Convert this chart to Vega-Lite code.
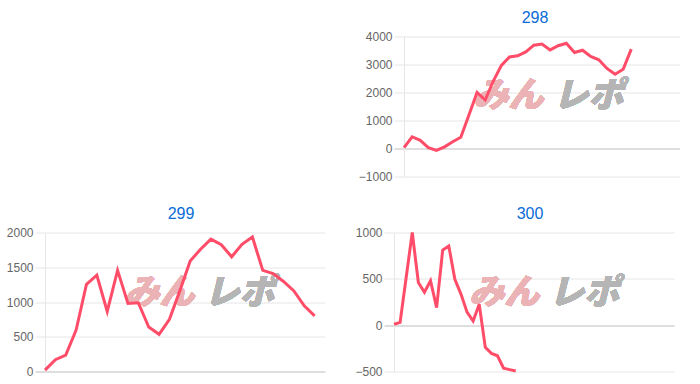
{
  "$schema": "https://vega.github.io/schema/vega-lite/v6.json",
  "padding": {"left": 6, "top": 9.5, "right": 0, "bottom": 0},
  "autosize": {"type": "pad"},
  "background": "white",
  "config": {
    "view": {"stroke": null},
    "font": "Liberation Sans",
    "title": {"fontSize": 16, "fontWeight": "normal", "color": "#0a6cd6", "font": "Liberation Sans", "offset": 4.5, "anchor": "middle"}
  },
  "datasets": {
    "d298": [
      {"i": 0, "v": 30}, {"i": 1, "v": 420}, {"i": 2, "v": 290}, {"i": 3, "v": 30}, {"i": 4, "v": -70},
      {"i": 5, "v": 60}, {"i": 6, "v": 240}, {"i": 7, "v": 400}, {"i": 8, "v": 1200}, {"i": 9, "v": 2000},
      {"i": 10, "v": 1730}, {"i": 11, "v": 2410}, {"i": 12, "v": 2970}, {"i": 13, "v": 3270}, {"i": 14, "v": 3310},
      {"i": 15, "v": 3450}, {"i": 16, "v": 3690}, {"i": 17, "v": 3730}, {"i": 18, "v": 3520}, {"i": 19, "v": 3670},
      {"i": 20, "v": 3760}, {"i": 21, "v": 3430}, {"i": 22, "v": 3510}, {"i": 23, "v": 3290}, {"i": 24, "v": 3170},
      {"i": 25, "v": 2860}, {"i": 26, "v": 2650}, {"i": 27, "v": 2830}, {"i": 28, "v": 3550}
    ],
    "d299": [
      {"i": 0, "v": 20}, {"i": 1, "v": 170}, {"i": 2, "v": 235}, {"i": 3, "v": 595}, {"i": 4, "v": 1255},
      {"i": 5, "v": 1385}, {"i": 6, "v": 865}, {"i": 7, "v": 1455}, {"i": 8, "v": 980}, {"i": 9, "v": 990},
      {"i": 10, "v": 640}, {"i": 11, "v": 535}, {"i": 12, "v": 750}, {"i": 13, "v": 1160}, {"i": 14, "v": 1590},
      {"i": 15, "v": 1760}, {"i": 16, "v": 1905}, {"i": 17, "v": 1825}, {"i": 18, "v": 1650}, {"i": 19, "v": 1830},
      {"i": 20, "v": 1935}, {"i": 21, "v": 1455}, {"i": 22, "v": 1410}, {"i": 23, "v": 1295}, {"i": 24, "v": 1160},
      {"i": 25, "v": 945}, {"i": 26, "v": 800}
    ],
    "d300": [
      {"i": 0, "v": 10}, {"i": 1, "v": 30}, {"i": 2, "v": 515}, {"i": 3, "v": 1000}, {"i": 4, "v": 460},
      {"i": 5, "v": 355}, {"i": 6, "v": 480}, {"i": 7, "v": 190}, {"i": 8, "v": 810}, {"i": 9, "v": 855},
      {"i": 10, "v": 495}, {"i": 11, "v": 335}, {"i": 12, "v": 140}, {"i": 13, "v": 45}, {"i": 14, "v": 225},
      {"i": 15, "v": -240}, {"i": 16, "v": -305}, {"i": 17, "v": -330}, {"i": 18, "v": -465}, {"i": 19, "v": -480},
      {"i": 20, "v": -495}
    ]
  },
  "spacing": 23,
  "vconcat": [
    {
      "spacing": 0,
      "hconcat": [
        {
          "width": 313, "height": 10,
          "data": {"values": [{"t": ""}]},
          "mark": {"type": "text"},
          "encoding": {"text": {"field": "t"}}
        },
        {
          "title": {"text": "298", "dx": -7},
          "width": 276, "height": 140,
          "data": {"name": "d298"},
          "resolve": {"axis": {"x": "independent", "y": "independent"}},
          "layer": [
            {
              "mark": {"type": "text", "align": "right", "baseline": "middle", "dx": -5, "font": "Noto Sans CJK JP", "fontWeight": 900, "fontStyle": "italic", "fontSize": 35, "color": "#ebb3b6", "opacity": 0.85},
              "encoding": {"x": {"datum": 17.8, "type": "quantitative", "axis": null}, "y": {"datum": 1864, "type": "quantitative", "axis": null}, "text": {"value": "みん"}}
            },
            {
              "mark": {"type": "text", "align": "left", "baseline": "middle", "dx": 5, "font": "Noto Sans CJK JP", "fontWeight": 900, "fontStyle": "italic", "fontSize": 35, "color": "#b5b5b5", "opacity": 0.85},
              "encoding": {"x": {"datum": 17.8, "type": "quantitative", "axis": null}, "y": {"datum": 1864, "type": "quantitative", "axis": null}, "text": {"value": "レポ"}}
            },
            {
              "mark": {"type": "line", "color": "#ff4d69", "strokeWidth": 3},
              "encoding": {
                "x": {"field": "i", "type": "quantitative", "scale": {"domain": [0, 34], "nice": false, "zero": false}, "axis": null},
                "y": {"field": "v", "type": "quantitative", "scale": {"domain": [-1000, 4000], "nice": false},
                  "axis": {"values": [-1000, 0, 1000, 2000, 3000, 4000], "format": "d", "title": null, "grid": true,
                    "gridColor": {"condition": {"test": "datum.value === 0", "value": "#bdbdbd"}, "value": "#e6e6e6"},
                    "tickColor": {"condition": {"test": "datum.value === 0", "value": "#bdbdbd"}, "value": "#e6e6e6"},
                    "tickSize": 10, "labelPadding": 2, "labelColor": "#666666", "labelFontSize": 12, "labelFont": "Liberation Sans", "domainColor": "#e6e6e6"}}
              }
            }
          ]
        }
      ]
    },
    {
      "spacing": 29,
      "hconcat": [
        {
          "title": {"text": "299", "dx": -4},
          "width": 280, "height": 139,
          "data": {"name": "d299"},
          "resolve": {"axis": {"x": "independent", "y": "independent"}},
          "layer": [
            {
              "mark": {"type": "text", "align": "right", "baseline": "middle", "dx": -5, "font": "Noto Sans CJK JP", "fontWeight": 900, "fontStyle": "italic", "fontSize": 35, "color": "#ebb3b6", "opacity": 0.85},
              "encoding": {"x": {"datum": 14.9, "type": "quantitative", "axis": null}, "y": {"datum": 1127, "type": "quantitative", "axis": null}, "text": {"value": "みん"}}
            },
            {
              "mark": {"type": "text", "align": "left", "baseline": "middle", "dx": 5, "font": "Noto Sans CJK JP", "fontWeight": 900, "fontStyle": "italic", "fontSize": 35, "color": "#b5b5b5", "opacity": 0.85},
              "encoding": {"x": {"datum": 14.9, "type": "quantitative", "axis": null}, "y": {"datum": 1127, "type": "quantitative", "axis": null}, "text": {"value": "レポ"}}
            },
            {
              "mark": {"type": "line", "color": "#ff4d69", "strokeWidth": 3},
              "encoding": {
                "x": {"field": "i", "type": "quantitative", "scale": {"domain": [0, 27], "nice": false, "zero": false}, "axis": null},
                "y": {"field": "v", "type": "quantitative", "scale": {"domain": [0, 2000], "nice": false},
                  "axis": {"values": [0, 500, 1000, 1500, 2000], "format": "d", "title": null, "grid": true,
                    "gridColor": {"condition": {"test": "datum.value === 0", "value": "#bdbdbd"}, "value": "#e6e6e6"},
                    "tickColor": {"condition": {"test": "datum.value === 0", "value": "#bdbdbd"}, "value": "#e6e6e6"},
                    "tickSize": 10, "labelPadding": 2, "labelColor": "#666666", "labelFontSize": 12, "labelFont": "Liberation Sans", "domainColor": "#e6e6e6"}}
              }
            }
          ]
        },
        {
          "title": {"text": "300", "dx": -4},
          "width": 280, "height": 139,
          "data": {"name": "d300"},
          "resolve": {"axis": {"x": "independent", "y": "independent"}},
          "layer": [
            {
              "mark": {"type": "text", "align": "right", "baseline": "middle", "dx": -5, "font": "Noto Sans CJK JP", "fontWeight": 900, "fontStyle": "italic", "fontSize": 35, "color": "#ebb3b6", "opacity": 0.85},
              "encoding": {"x": {"datum": 24.7, "type": "quantitative", "axis": null}, "y": {"datum": 345, "type": "quantitative", "axis": null}, "text": {"value": "みん"}}
            },
            {
              "mark": {"type": "text", "align": "left", "baseline": "middle", "dx": 5, "font": "Noto Sans CJK JP", "fontWeight": 900, "fontStyle": "italic", "fontSize": 35, "color": "#b5b5b5", "opacity": 0.85},
              "encoding": {"x": {"datum": 24.7, "type": "quantitative", "axis": null}, "y": {"datum": 345, "type": "quantitative", "axis": null}, "text": {"value": "レポ"}}
            },
            {
              "mark": {"type": "line", "color": "#ff4d69", "strokeWidth": 3},
              "encoding": {
                "x": {"field": "i", "type": "quantitative", "scale": {"domain": [0, 46], "nice": false, "zero": false}, "axis": null},
                "y": {"field": "v", "type": "quantitative", "scale": {"domain": [-500, 1000], "nice": false},
                  "axis": {"values": [-500, 0, 500, 1000], "format": "d", "title": null, "grid": true,
                    "gridColor": {"condition": {"test": "datum.value === 0", "value": "#bdbdbd"}, "value": "#e6e6e6"},
                    "tickColor": {"condition": {"test": "datum.value === 0", "value": "#bdbdbd"}, "value": "#e6e6e6"},
                    "tickSize": 10, "labelPadding": 2, "labelColor": "#666666", "labelFontSize": 12, "labelFont": "Liberation Sans", "domainColor": "#e6e6e6"}}
              }
            }
          ]
        }
      ]
    }
  ]
}
